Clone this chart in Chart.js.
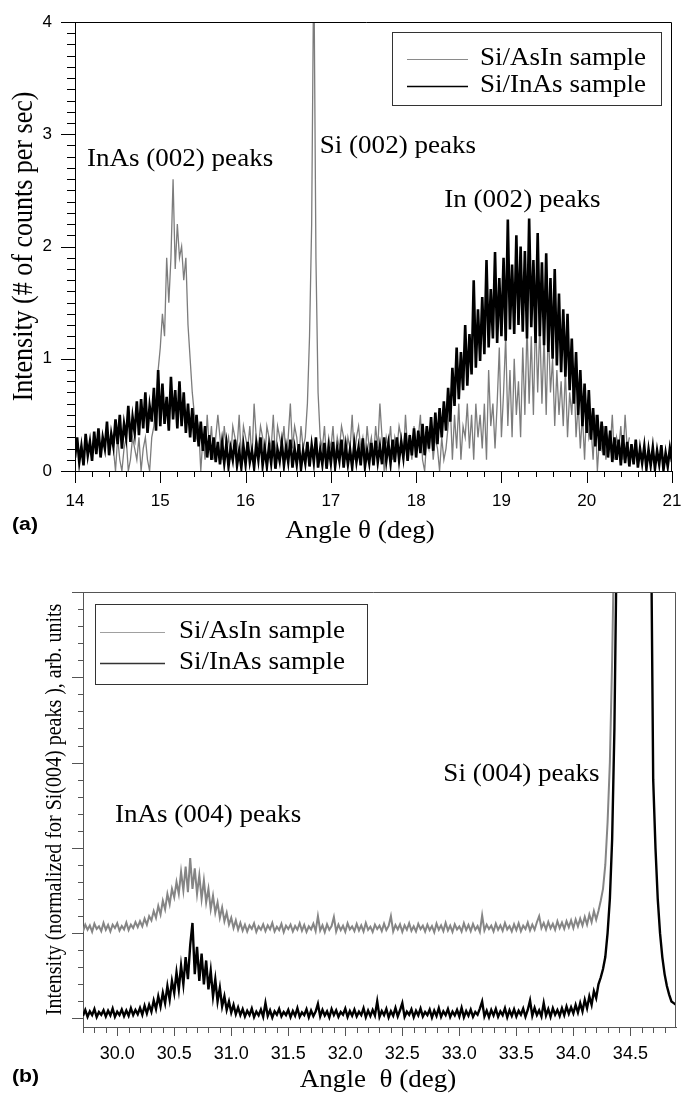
<!DOCTYPE html>
<html>
<head>
<meta charset="utf-8">
<script src="https://cdn.jsdelivr.net/npm/chart.js@4.4.0/dist/chart.umd.min.js"></script>
<style>
  html, body { margin: 0; padding: 0; background: #fff; }
  #wrap { position: relative; width: 682px; height: 1096px; }
  .panel { position: absolute; left: 0; width: 682px; height: 548px; }
</style>
</head>
<body>
<div id="wrap">
  <div class="panel" style="top:0"><canvas id="chartA"></canvas></div>
  <div class="panel" style="top:548px"><canvas id="chartB"></canvas></div>
</div>
<script>
// ---- panel (a): Si(002) region, counts per sec ----
const aStart = 14, aStep = 0.025;
const aBlack = [
  0.12, 0.30, 0.08, 0.22, 0.05, 0.33, 0.14, 0.26, 0.09, 0.35,
  0.15, 0.38, 0.12, 0.30, 0.20, 0.44, 0.14, 0.33, 0.22, 0.46,
  0.24, 0.50, 0.20, 0.42, 0.30, 0.58, 0.26, 0.48, 0.34, 0.62,
  0.32, 0.64, 0.38, 0.70, 0.34, 0.58, 0.44, 0.74, 0.36, 0.90,
  0.40, 0.78, 0.42, 0.66, 0.36, 0.84, 0.46, 0.72, 0.38, 0.80,
  0.40, 0.70, 0.34, 0.60, 0.30, 0.56, 0.26, 0.50, 0.22, 0.44,
  0.18, 0.40, 0.12, 0.32, 0.10, 0.30, 0.08, 0.26, 0.06, 0.25,
  0.07, 0.24, 0.04, 0.20, 0.10, 0.28, 0.05, 0.18, 0.03, 0.22,
  0.06, 0.26, 0.08, 0.18, 0.03, 0.24, 0.10, 0.30, 0.05, 0.20,
  0.04, 0.22, 0.07, 0.27, 0.02, 0.19, 0.09, 0.25, 0.05, 0.21,
  0.08, 0.28, 0.03, 0.20, 0.06, 0.24, 0.02, 0.18, 0.07, 0.26,
  0.04, 0.23, 0.08, 0.30, 0.03, 0.19, 0.06, 0.25, 0.02, 0.21,
  0.07, 0.26, 0.04, 0.20, 0.09, 0.28, 0.03, 0.22, 0.06, 0.19,
  0.03, 0.24, 0.08, 0.21, 0.05, 0.29, 0.04, 0.18, 0.07, 0.25,
  0.05, 0.27, 0.08, 0.22, 0.06, 0.30, 0.09, 0.24, 0.07, 0.28,
  0.08, 0.30, 0.10, 0.26, 0.12, 0.34, 0.09, 0.32, 0.14, 0.38,
  0.12, 0.36, 0.16, 0.42, 0.14, 0.40, 0.20, 0.48, 0.18, 0.52,
  0.24, 0.56, 0.30, 0.62, 0.36, 0.74, 0.44, 0.92, 0.58, 1.10,
  0.64, 1.06, 0.72, 1.30, 0.76, 1.22, 0.86, 1.70, 0.92, 1.44,
  0.98, 1.55, 1.04, 1.88, 1.10, 1.62, 1.18, 1.95, 1.14, 1.72,
  1.20, 1.90, 1.16, 2.24, 1.26, 1.84, 1.22, 2.10, 1.30, 2.00,
  1.24, 1.96, 1.18, 2.25, 1.28, 1.88, 1.14, 2.12, 1.20, 1.86,
  1.12, 1.94, 1.06, 1.72, 1.00, 1.80, 0.94, 1.58, 0.88, 1.44,
  0.84, 1.40, 0.72, 1.18, 0.60, 1.06, 0.50, 0.90, 0.40, 0.78,
  0.34, 0.72, 0.28, 0.56, 0.22, 0.50, 0.18, 0.44, 0.14, 0.40,
  0.12, 0.36, 0.08, 0.30, 0.10, 0.28, 0.05, 0.32, 0.07, 0.26,
  0.04, 0.24, 0.06, 0.28, 0.03, 0.20, 0.07, 0.22, 0.02, 0.19,
  0.05, 0.21, 0.02, 0.18, 0.06, 0.23, 0.01, 0.16, 0.04, 0.20,
  0.08
];
const aGrayStart = 14.45;
const aGray = [
  0.2, 0.0, 0.3, 0.1, 0.0, 0.2, 0.3, 0.0, 0.1, 0.3,
  0.2, 0.1, 0.3, 0.0, 0.2, 0.3, 0.1, 0.0, 0.3, 0.4,
  0.6, 0.9, 1.1, 1.4, 1.2, 1.9, 1.5, 1.9, 2.6, 1.8,
  2.2, 1.9, 2.0, 1.7, 1.9, 1.3, 1.0, 0.7, 0.5, 0.3,
  0.4, 0.0, 0.3, 0.1, 0.5, 0.2, 0.4, 0.1, 0.3, 0.5,
  0.3, 0.1, 0.4, 0.2, 0.3, 0.1, 0.4, 0.3, 0.2, 0.5,
  0.1, 0.4, 0.3, 0.2, 0.4, 0.1, 0.6, 0.3, 0.2, 0.4,
  0.3, 0.1, 0.4, 0.3, 0.2, 0.5, 0.1, 0.4, 0.3, 0.2,
  0.4, 0.1, 0.3, 0.6, 0.2, 0.4, 0.3, 0.1, 0.4, 0.2,
  0.3, 0.6, 1.2, 2.2, 4.6, 1.9, 0.7, 0.3, 0.2, 0.4,
  0.1, 0.3, 0.2, 0.4, 0.1, 0.3, 0.2, 0.4, 0.3, 0.1,
  0.3, 0.2, 0.5, 0.1, 0.3, 0.4, 0.2, 0.3, 0.1, 0.4,
  0.2, 0.3, 0.1, 0.4, 0.2, 0.6, 0.3, 0.0, 0.3, 0.2,
  0.4, 0.1, 0.3, 0.2, 0.4, 0.3, 0.1, 0.5, 0.2, 0.3,
  0.1, 0.4, 0.2, 0.3, 0.5, 0.1, 0.0, 0.3, 0.2, 0.4,
  0.1, 0.3, 0.2, 0.0, 0.3, 0.1, 0.2, 0.4, 0.6, 0.1,
  0.5, 0.2, 0.6, 0.1, 0.4, 0.3, 0.6, 0.2, 0.5, 0.1,
  0.6, 0.3, 0.5, 0.2, 0.6, 0.1, 0.9, 0.4, 0.6, 0.2,
  0.6, 1.1, 0.3, 0.7, 1.2, 0.4, 0.9, 0.3, 1.0, 0.5,
  0.8, 0.3, 1.1, 0.5, 1.3, 0.6, 1.2, 0.5, 1.4, 0.7,
  1.3, 0.6, 1.2, 0.5, 1.3, 0.7, 1.0, 0.4, 0.9, 0.5,
  0.8, 0.4, 0.9, 0.3, 0.7, 0.5, 0.9, 0.3, 0.6, 0.2,
  0.5, 0.1, 0.6, 0.3, 0.4, 0.1, 0.5, 0.0, 0.3, 0.2,
  0.4, 0.1, 0.3, 0.2, 0.5, 0.1, 0.3, 0.2, 0.4, 0.1,
  0.5, 0.2, 0.3
];

// ---- panel (b): Si(004) region, normalized, arb. units ----
const bStart = 29.7, bStep = 0.02;
const bBlack = [
  0.15, 0.50, 0.10, 0.42, 0.20, 0.55, 0.08, 0.38, 0.22, 0.48,
  0.12, 0.45, 0.18, 0.58, 0.10, 0.40, 0.20, 0.52, 0.14, 0.46,
  0.16, 0.60, 0.20, 0.50, 0.25,
  0.62, 0.22, 0.75, 0.30, 0.80,
  0.40, 1.05, 0.55, 1.30, 0.70,
  1.50, 0.90, 1.90, 1.10, 2.20,
  1.50, 2.70, 1.70, 3.10, 2.00,
  3.60, 2.30, 4.30, 5.60, 2.60,
  4.20, 2.20, 3.80, 2.00, 3.40,
  1.70, 2.80, 1.30, 2.30, 1.00,
  1.80, 0.70, 1.30, 0.50, 1.00,
  0.35, 0.80, 0.25, 0.65, 0.20,
  0.55, 0.12, 0.45, 0.20, 0.58, 0.08, 0.40, 0.18, 0.52, 0.10,
  0.90, 0.15, 0.48, 0.06, 0.42, 0.22, 0.56, 0.12, 0.38, 0.20,
  0.50, 0.08, 0.44, 0.16, 0.60, 0.10, 0.36, 0.20, 0.54, 0.07,
  0.46, 0.14, 0.40, 0.85, 0.12, 0.50, 0.18, 0.42, 0.06, 0.55,
  0.20, 0.48, 0.10, 0.38, 0.22, 0.58, 0.09, 0.44, 0.16, 0.52,
  0.12, 0.40, 0.20, 0.60, 0.08, 0.46, 0.14, 0.50, 0.18, 1.00,
  0.10, 0.44, 0.20, 0.56, 0.07, 0.42, 0.16, 0.62, 0.12, 0.48,
  0.90, 0.10, 0.40, 0.22, 0.54, 0.08, 0.45, 0.18, 0.58, 0.12,
  0.38, 0.20, 0.52, 0.06, 0.46, 0.15, 0.60, 0.10, 0.42, 0.20,
  0.55, 0.09, 0.40, 0.18, 0.50, 0.12, 0.62, 0.08, 0.44, 0.16,
  0.52, 0.10, 0.38, 0.22, 0.58, 1.00, 0.12, 0.46, 0.08, 0.50,
  0.18, 0.56, 0.10, 0.42, 0.20, 0.60, 0.07, 0.48, 0.15, 0.54,
  0.12, 0.45, 0.22, 0.58, 0.10, 0.50, 1.05, 0.16, 0.62, 0.20,
  0.48, 0.12, 0.90, 0.18, 0.55, 0.10, 0.60, 0.22, 0.50, 0.15,
  0.60, 0.20, 0.70, 0.28, 0.66, 0.30, 0.80, 0.35, 0.90, 0.42,
  1.10, 0.60, 1.30, 0.80, 1.60,
  1.20, 2.00, 2.40, 2.90, 3.60, 5.00, 7.00, 10.5, 17.0, 28.0,
  40, 50, 60, 70, 80, 90, 95, 95, 90, 80, 70, 60, 50,
  40, 30, 14.0, 10.0, 7.0, 5.0, 3.6, 2.6, 1.9, 1.4, 1.0, 0.9, 0.8
];
const bGray = [
  5.10, 5.50, 5.20, 5.45, 5.08, 5.55, 5.25, 5.40, 5.12, 5.60,
  5.20, 5.48, 5.10, 5.50, 5.30, 5.58, 5.15, 5.42, 5.22, 5.62,
  5.18, 5.50, 5.30, 5.65, 5.35,
  5.70, 5.40, 5.85, 5.50, 6.00,
  5.75, 6.30, 5.90, 6.60, 6.10,
  6.90, 6.40, 7.30, 6.70, 7.60,
  7.10, 8.00, 7.30, 8.60, 7.50,
  8.90, 7.40, 9.40, 7.60, 8.80,
  7.30, 8.40, 7.00, 8.10, 6.80,
  7.60, 6.40, 7.20, 6.20, 6.80,
  5.90, 6.50, 5.70, 6.20, 5.50,
  5.90, 5.30, 5.75, 5.20, 5.60,
  5.15, 5.50, 5.10, 5.45, 5.25, 5.58, 5.08, 5.40, 5.20, 5.52,
  5.12, 5.46, 5.22, 5.60, 5.10, 5.38, 5.18, 5.55, 5.06, 5.44,
  5.24, 5.50, 5.10, 5.42, 5.20, 5.58, 5.14, 5.48, 5.08, 5.40,
  5.22, 5.55, 5.12, 6.00, 5.16, 5.46, 5.06, 5.52, 5.20, 5.42,
  5.95, 5.10, 5.50, 5.18, 5.44, 5.08, 5.58, 5.22, 5.40, 5.12,
  5.54, 5.16, 5.46, 5.10, 5.60, 5.20, 5.38, 5.07, 5.50, 5.24,
  5.44, 5.12, 5.56, 5.18, 5.42, 6.00, 5.10, 5.48, 5.22, 5.52,
  5.08, 5.46, 5.20, 5.58, 5.14, 5.40, 5.10, 5.54, 5.24, 5.44,
  5.10, 5.50, 5.18, 5.42, 5.06, 5.56, 5.20, 5.46, 5.12, 5.60,
  5.16, 5.44, 5.08, 5.52, 5.22, 5.40, 5.10, 5.58, 5.18, 5.48,
  5.12, 5.54, 5.20, 5.42, 5.08, 6.05, 5.16, 5.50, 5.24, 5.44,
  5.10, 5.56, 5.20, 5.46, 5.14, 5.60, 5.22, 5.42, 5.10, 5.52,
  5.18, 5.58, 5.12, 5.44, 5.24, 5.62, 5.16, 5.50, 5.20, 5.64,
  6.00, 5.30, 5.60, 5.22, 5.66, 5.28, 5.55, 5.20, 5.70, 5.30,
  5.62, 5.25, 5.70, 5.35, 5.75, 5.30, 5.80, 5.40, 5.85, 5.45,
  5.95, 5.50, 6.10, 5.65, 6.30,
  5.80, 6.30, 6.90, 7.60, 9.00, 11.5, 15.0, 21.0, 29.0, 40.0, 55.0
];

const seriesNames = ['Si/AsIn sample', 'Si/InAs sample'];

function toPoints(vals, start, step) {
  return vals.map((v, i) => ({ x: +(start + i * step).toFixed(3), y: v }));
}

// stretched text helper (the source figure is a bit wider than tall)
function putText(ctx, t) {
  ctx.save();
  ctx.translate(t.x, t.y);
  if (t.rot) {
    ctx.rotate(-Math.PI / 2);
    ctx.scale(1, t.stretch || 1);
  } else {
    ctx.scale(t.stretch || 1, 1);
  }
  ctx.font = t.font;
  ctx.fillStyle = t.color || '#000';
  ctx.textAlign = t.align || 'left';
  ctx.textBaseline = 'middle';
  ctx.fillText(t.text, 0, 0);
  ctx.restore();
}

const SERIF = '"Liberation Serif", "Times New Roman", serif';
const SANS = '"Liberation Sans", Arial, sans-serif';
const ST = 1.04;

const decoPlugin = {
  id: 'panelDeco',
  afterDraw(chart, args, o) {
    const ctx = chart.ctx, a = chart.chartArea;
    const sx = chart.scales.x, sy = chart.scales.y;
    ctx.save();
    // top and right frame
    ctx.strokeStyle = o.frameColor;
    ctx.lineWidth = 1;
    ctx.beginPath();
    const top = Math.round(a.top) + 0.5, right = Math.round(a.right) - 0.5;
    ctx.moveTo(Math.round(a.left) - o.yTicks.major, top);
    ctx.lineTo(right, top);
    ctx.lineTo(right, Math.round(a.bottom));
    ctx.stroke();

    // tick marks on both axes, from the chart's own scales
    ctx.beginPath();
    const xt = o.xTicks, yt = o.yTicks;
    const nx = Math.round((xt.to - xt.from) / xt.step);
    for (let k = 0; k <= nx; k++) {
      const v = xt.from + k * xt.step;
      const isMajor = Math.abs(v / xt.majorStep - Math.round(v / xt.majorStep)) < 1e-6;
      const px = Math.round(sx.getPixelForValue(v)) + 0.5;
      ctx.moveTo(px, Math.round(a.bottom));
      ctx.lineTo(px, Math.round(a.bottom) + (isMajor ? xt.major : xt.minor));
    }
    const ny = Math.round((yt.to - yt.from) / yt.step);
    for (let k = 0; k <= ny; k++) {
      const v = yt.from + k * yt.step;
      const isMajor = Math.abs(v / yt.majorStep - Math.round(v / yt.majorStep)) < 1e-6;
      const py = Math.round(sy.getPixelForValue(v)) + 0.5;
      ctx.moveTo(Math.round(a.left), py);
      ctx.lineTo(Math.round(a.left) - (isMajor ? yt.major : yt.minor), py);
    }
    ctx.stroke();

    // peak labels, placed in data units
    o.notes.forEach(n => putText(ctx, {
      text: n.text, x: sx.getPixelForValue(n.x), y: sy.getPixelForValue(n.y),
      font: '26px ' + SERIF, stretch: ST
    }));

    // legend box
    const L = o.legend;
    ctx.strokeStyle = L.border;
    ctx.lineWidth = 1;
    ctx.strokeRect(L.left + 0.5, L.top + 0.5, L.w, L.h);
    L.rows.forEach((r, i) => {
      ctx.strokeStyle = r.color;
      ctx.lineWidth = r.width;
      ctx.beginPath();
      ctx.moveTo(L.left + L.line0, L.top + r.dy + 0.5);
      ctx.lineTo(L.left + L.line1, L.top + r.dy + 0.5);
      ctx.stroke();
      putText(ctx, { text: seriesNames[i], x: L.left + L.textX, y: L.top + r.dy - 1,
        font: '26px ' + SERIF, stretch: ST });
    });

    // axis titles and panel tag
    putText(ctx, { text: o.xTitle, x: o.xTitleAt[0], y: o.xTitleAt[1], font: '26px ' + SERIF,
      stretch: ST, align: 'center' });
    putText(ctx, { text: o.yTitle, x: o.yTitleAt[0], y: (a.top + a.bottom) / 2, font: o.yTitleFont,
      stretch: 1.12, align: 'center', rot: true });
    putText(ctx, { text: o.tag, x: 12, y: o.tagY, font: 'bold 18px ' + SANS, stretch: 1.18 });
    ctx.restore();
  }
};

function axisFit(w, h) {
  return function (s) {
    if (w != null) { s.width = w; s.paddingTop = 0; s.paddingBottom = 0; }
    if (h != null) { s.height = h; s.paddingLeft = 0; s.paddingRight = 0; }
  };
}

const chartA = new Chart(document.getElementById('chartA'), {
  type: 'line',
  data: {
    datasets: [
      {
        label: seriesNames[1],
        data: toPoints(aBlack, aStart, aStep),
        borderColor: '#000',
        borderWidth: 2.6,
        borderJoinStyle: 'miter',
        order: 0
      },
      {
        label: seriesNames[0],
        data: toPoints(aGray, aGrayStart, aStep),
        borderColor: '#7c7c7c',
        borderWidth: 1.3,
        order: 1
      }
    ]
  },
  options: {
    responsive: true,
    maintainAspectRatio: false,
    animation: false,
    devicePixelRatio: 1,
    layout: { padding: { left: 0, right: 10, top: 22, bottom: 17 } },
    elements: { point: { radius: 0 }, line: { tension: 0 } },
    scales: {
      x: {
        type: 'linear', min: 14, max: 21,
        ticks: { stepSize: 1, padding: 20, color: '#000', font: { family: SANS, size: 17 } },
        grid: { drawOnChartArea: false, drawTicks: false },
        border: { color: '#000', width: 1 },
        afterFit: axisFit(null, 60)
      },
      y: {
        type: 'linear', min: 0, max: 4,
        ticks: { stepSize: 1, padding: 23, color: '#000', font: { family: SANS, size: 17 } },
        grid: { drawOnChartArea: false, drawTicks: false },
        border: { color: '#000', width: 1 },
        afterFit: axisFit(75, null)
      }
    },
    plugins: {
      legend: { display: false },
      tooltip: { enabled: false },
      panelDeco: {
        frameColor: '#000',
        xTicks: { from: 14, to: 21, step: 0.2, majorStep: 1, major: 12, minor: 6 },
        yTicks: { from: 0, to: 4, step: 0.1, majorStep: 1, major: 14, minor: 8 },
        notes: [
          { text: 'InAs (002) peaks', x: 14.14, y: 2.78 },
          { text: 'Si (002) peaks', x: 16.87, y: 2.89 },
          { text: 'In (002) peaks', x: 18.33, y: 2.41 }
        ],
        legend: {
          left: 392, top: 32, w: 269, h: 73, border: '#333',
          line0: 15, line1: 76, textX: 88,
          rows: [{ dy: 27, color: '#8a8a8a', width: 1 }, { dy: 54, color: '#000', width: 1.5 }]
        },
        xTitle: 'Angle \u03b8 (deg)', xTitleAt: [360, 531],
        yTitle: 'Intensity (# of counts per sec)', yTitleAt: [24], yTitleFont: '26px ' + SERIF,
        tag: '(a)', tagY: 525
      }
    }
  },
  plugins: [decoPlugin]
});

const chartB = new Chart(document.getElementById('chartB'), {
  type: 'line',
  data: {
    datasets: [
      {
        label: seriesNames[1],
        data: toPoints(bBlack, bStart, bStep),
        borderColor: '#000',
        borderWidth: 2.4,
        order: 0
      },
      {
        label: seriesNames[0],
        data: toPoints(bGray, bStart, bStep),
        borderColor: '#858585',
        borderWidth: 2,
        order: 1
      }
    ]
  },
  options: {
    responsive: true,
    maintainAspectRatio: false,
    animation: false,
    devicePixelRatio: 1,
    layout: { padding: { left: 0, right: 6, top: 44, bottom: 19 } },
    elements: { point: { radius: 0 }, line: { tension: 0 } },
    scales: {
      x: {
        type: 'linear', min: 29.7, max: 34.9,
        ticks: {
          stepSize: 0.5, includeBounds: false, padding: 16, color: '#000',
          font: { family: SANS, size: 18 },
          callback: v => Number(v).toFixed(1)
        },
        grid: { drawOnChartArea: false, drawTicks: false },
        border: { color: '#555', width: 1 },
        afterFit: axisFit(null, 50)
      },
      y: {
        type: 'linear', min: -0.5, max: 25,
        ticks: { display: false },
        grid: { drawOnChartArea: false, drawTicks: false },
        border: { color: '#555', width: 1 },
        afterFit: axisFit(83, null)
      }
    },
    plugins: {
      legend: { display: false },
      tooltip: { enabled: false },
      panelDeco: {
        frameColor: '#555',
        xTicks: { from: 29.7, to: 34.8, step: 0.1, majorStep: 0.5, major: 9, minor: 6 },
        yTicks: { from: 0, to: 25, step: 1, majorStep: 5, major: 11, minor: 5 },
        notes: [
          { text: 'InAs (004) peaks', x: 29.98, y: 11.93 },
          { text: 'Si (004) peaks', x: 32.86, y: 14.33 }
        ],
        legend: {
          left: 95, top: 56, w: 272, h: 80, border: '#333',
          line0: 5, line1: 70, textX: 84,
          rows: [{ dy: 28, color: '#a0a0a0', width: 1 }, { dy: 59, color: '#333', width: 1.5 }]
        },
        xTitle: 'Angle  \u03b8 (deg)', xTitleAt: [378, 532],
        yTitle: 'Intensity (normalized for Si(004) peaks ), arb. units', yTitleAt: [55],
        yTitleFont: '20px ' + SERIF,
        tag: '(b)', tagY: 529
      }
    }
  },
  plugins: [decoPlugin]
});
</script>
</body>
</html>
